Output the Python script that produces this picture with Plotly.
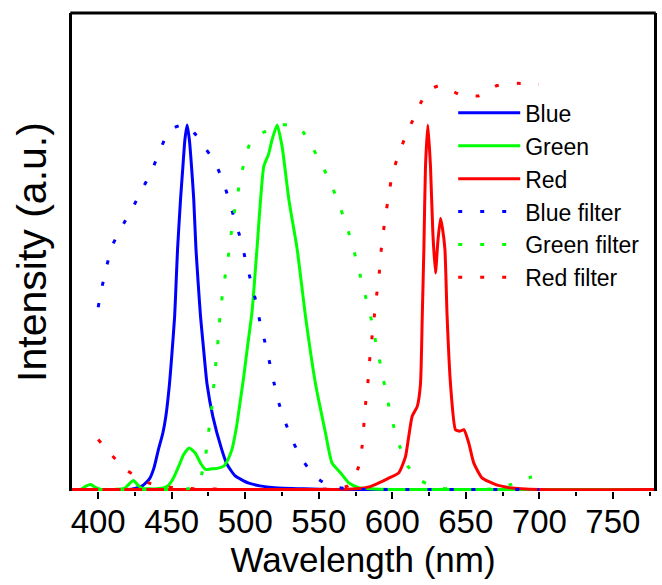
import plotly.graph_objects as go

# ---- data (wavelength in nm, normalized intensity) ----
blue_wl = [381, 395, 410, 420, 425, 430, 435, 438, 441, 444, 446, 448.5, 450.3, 452, 453, 454, 456, 457.6, 459,
           460.5, 462, 463.5, 465, 466.5, 468, 469.6, 471.8, 474, 478, 484, 487.5, 493, 502, 510, 520, 540, 560,
           600, 700, 779]
blue_int = [0, 0, 0, 0, 0.003, 0.01, 0.03, 0.06, 0.11, 0.155, 0.2, 0.29, 0.38, 0.475, 0.567, 0.66, 0.795, 0.885,
            0.96, 1.0, 0.96, 0.885, 0.795, 0.66, 0.567, 0.475, 0.38, 0.29, 0.2, 0.11, 0.07, 0.038, 0.018, 0.01,
            0.005, 0.002, 0, 0, 0, 0]

green_wl = [381, 388, 392, 395, 398, 402, 410, 418, 421, 424, 427, 430, 440, 445, 448, 451, 454.8, 458, 462,
            466, 470, 473, 477.5, 481, 485.4, 488, 491, 494, 496.8, 499, 501.3, 504.7, 508, 512.6, 515.9, 518.3,
            521.7, 525.1, 529.7, 535.3, 541, 547.8, 554.6, 559, 564.8, 570.5, 577, 585, 600, 700, 779]
green_int = [0, 0, 0.01, 0.014, 0.006, 0, 0, 0.003, 0.015, 0.025, 0.012, 0.003, 0.002, 0.005, 0.012, 0.03,
             0.064, 0.095, 0.114, 0.1, 0.07, 0.055, 0.057, 0.058, 0.064, 0.08, 0.11, 0.17, 0.247, 0.31, 0.384,
             0.49, 0.66, 0.886, 0.92, 0.96, 1.0, 0.94, 0.795, 0.66, 0.475, 0.29, 0.155, 0.073, 0.046, 0.018,
             0.005, 0.002, 0, 0, 0]

red_wl = [381, 560, 575, 585, 590.9, 597, 604.5, 609, 611, 613.5, 617, 619.2, 620.4, 621.5, 622.6, 624.2, 626,
          627.6, 629.4, 631, 632.8, 634, 635.8, 637.3, 639.6, 643, 646, 648.7, 652, 655.4, 661, 670, 680, 700, 779]
red_int = [0, 0, 0.002, 0.008, 0.018, 0.03, 0.046, 0.09, 0.14, 0.2, 0.228, 0.29, 0.475, 0.66, 0.886, 1.0, 0.886,
           0.704, 0.594, 0.68, 0.744, 0.72, 0.66, 0.475, 0.29, 0.164, 0.16, 0.164, 0.128, 0.073, 0.032, 0.014,
           0.005, 0, 0]

bfilt_wl = [400, 402.7, 406, 409.5, 416, 423, 429.4, 436, 441.2, 447, 452, 457, 462, 466, 470.2, 478.6, 484.3,
            488.8, 492.7, 496.8, 500.2, 503.6, 507, 510, 513.3, 516.5, 519.5, 522.9, 527.4, 532.6, 539.4, 547.8,
            554.6, 564, 580, 600, 650, 700]
bfilt_int = [0.5, 0.557, 0.616, 0.668, 0.72, 0.769, 0.82, 0.87, 0.922, 0.975, 0.993, 1.0, 0.993, 0.975, 0.95,
             0.904, 0.852, 0.797, 0.742, 0.688, 0.63, 0.575, 0.52, 0.46, 0.406, 0.35, 0.294, 0.237, 0.183, 0.13,
             0.078, 0.034, 0.016, 0.005, 0, 0, 0, 0]

gfilt_wl = [400, 420, 440, 455, 462, 466, 469.6, 473, 474.8, 476.8, 478.2, 479.3, 480.9, 482, 483.2, 485, 487.3,
            489.5, 491, 493.4, 496, 499, 503, 507.5, 512.6, 518, 525, 531, 537.6, 545, 551.7, 558, 563.2, 568.2,
            572.3, 576, 579.5, 583, 586.3, 589, 592, 594.8, 597.7, 601, 605, 610.6, 619.2, 630, 650, 670, 681,
            688, 695]
gfilt_int = [0, 0, 0, 0, 0.003, 0.012, 0.032, 0.09, 0.15, 0.207, 0.265, 0.32, 0.379, 0.436, 0.49, 0.55, 0.61,
             0.667, 0.72, 0.778, 0.836, 0.893, 0.947, 0.965, 0.98, 0.99, 1.0, 1.0, 0.99, 0.943, 0.893, 0.842,
             0.788, 0.733, 0.679, 0.623, 0.566, 0.511, 0.457, 0.399, 0.342, 0.285, 0.228, 0.173, 0.119, 0.064,
             0.025, 0.005, 0, 0.002, 0.014, 0.025, 0.035]

rfilt_wl = [400, 409.5, 419.7, 431.7, 440, 460, 500, 550, 570, 577.3, 579.5, 580.7, 581.8, 583.4, 584.5, 585.9,
            587.5, 589, 590.9, 592, 593.6, 595.4, 597.7, 600, 604.5, 609.5, 615.4, 621.5, 627, 632.4, 638, 645.3,
            652, 659, 665, 671.4, 678, 685.7, 692, 699.7]
rfilt_int = [0.137, 0.093, 0.052, 0.023, 0.01, 0.003, 0, 0, 0.01, 0.064, 0.119, 0.178, 0.233, 0.292, 0.349,
             0.406, 0.464, 0.522, 0.58, 0.64, 0.694, 0.752, 0.808, 0.866, 0.92, 0.974, 1.025, 1.077, 1.1, 1.108,
             1.1, 1.084, 1.08, 1.08, 1.095, 1.108, 1.112, 1.114, 1.113, 1.111]

x_ticks = [400, 450, 500, 550, 600, 650, 700, 750]

FONT = "Liberation Sans, Arial, sans-serif"
DOT = "4px,18px"

series = [
    ("Blue", blue_wl, blue_int, "#0000FF", "solid"),
    ("Green", green_wl, green_int, "#00FF00", "solid"),
    ("Red", red_wl, red_int, "#FF0000", "solid"),
    ("Blue filter", bfilt_wl, bfilt_int, "#0000FF", DOT),
    ("Green filter", gfilt_wl, gfilt_int, "#00FF00", DOT),
    ("Red filter", rfilt_wl, rfilt_int, "#FF0000", DOT),
]

fig = go.Figure()
for name, xs, ys, col, dash in series:
    fig.add_trace(go.Scatter(
        x=xs, y=ys, name=name, mode="lines",
        line=dict(color=col, width=3, dash=dash, shape="spline", smoothing=0.5),
    ))

fig.update_layout(
    width=662, height=585,
    margin=dict(l=72, r=5, t=13, b=94),
    paper_bgcolor="white", plot_bgcolor="white",
    font=dict(family=FONT, color="black"),
    showlegend=True,
    legend=dict(
        x=0.655, xanchor="left", y=0.836, yanchor="top",
        bgcolor="rgba(0,0,0,0)", borderwidth=0,
        font=dict(size=23, family=FONT, color="black"),
        itemwidth=62, tracegroupgap=0,
    ),
    xaxis=dict(
        range=[382.2, 778],
        tickvals=x_ticks, ticktext=[str(v) for v in x_ticks],
        ticks="outside", ticklen=7, tickwidth=2, tickcolor="black",
        minor=dict(ticks="outside", ticklen=4, tickwidth=2, tickcolor="black", dtick=25, tick0=400),
        showline=False, showgrid=False, zeroline=False,
        ticklabelstandoff=-6,
        tickfont=dict(size=33, family=FONT, color="black"),
        title=dict(text="Wavelength (nm)", font=dict(size=35, family=FONT, color="black"), standoff=7),
    ),
    yaxis=dict(
        range=[-0.0041, 1.307],
        showticklabels=False, ticks="",
        showline=True, mirror=True, linecolor="black", linewidth=3,
        showgrid=False, zeroline=False,
        title=dict(text="Intensity (a.u.)", font=dict(size=41, family=FONT, color="black"), standoff=10),
    ),
    shapes=[dict(type="line", xref="paper", yref="paper", x0=-0.003, x1=1.003, y0=1, y1=1,
                 line=dict(color="black", width=3))],
)

fig.write_html("out.html")
